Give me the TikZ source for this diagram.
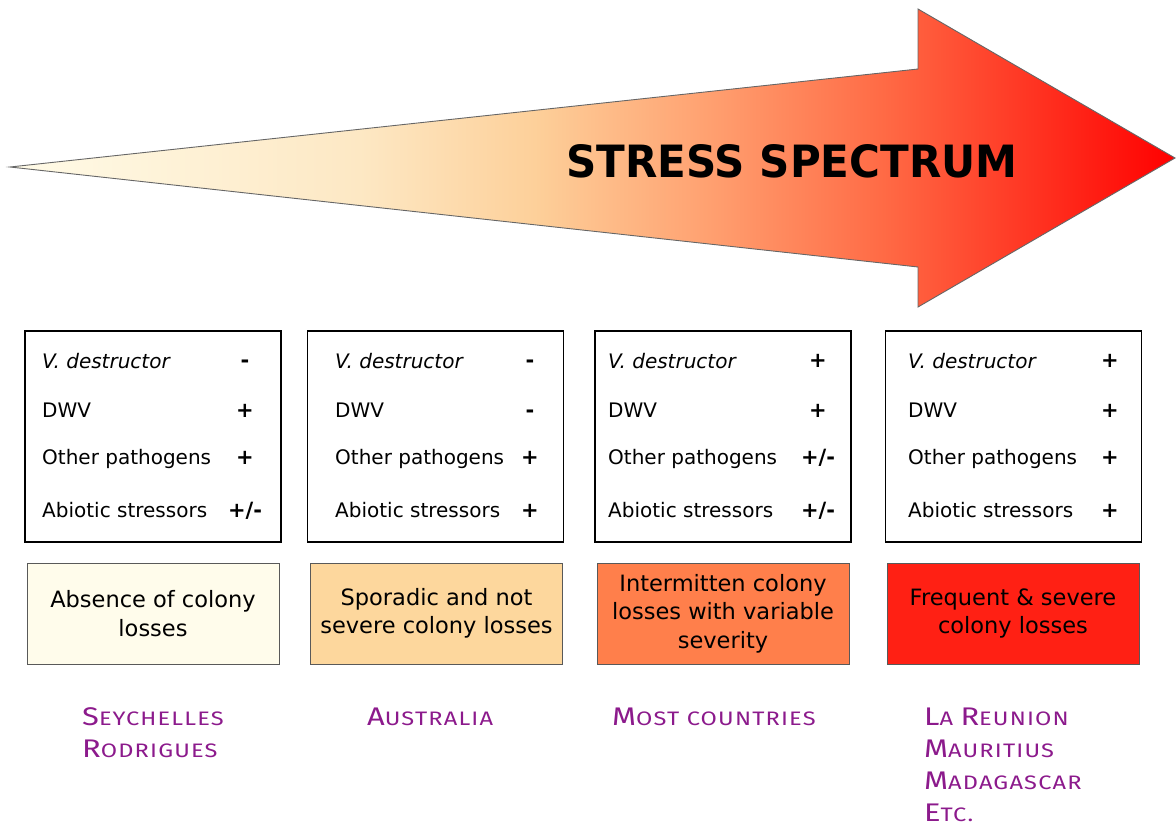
\documentclass[tikz,border=0pt]{standalone}
\usepackage{fontspec}
\setmainfont{DejaVu Sans}
\newfontfamily\cfont[LetterSpace=6,FakeStretch=1.21]{Fira Sans}
\newfontfamily\titlefont{DejaVu Sans}
\definecolor{s0}{RGB}{255,251,232}
\definecolor{s1}{RGB}{253,232,196}
\definecolor{s2}{RGB}{253,208,154}
\definecolor{s3}{RGB}{255,160,112}
\definecolor{s4}{RGB}{255,106,69}
\definecolor{s5}{RGB}{255,0,0}
\definecolor{f1}{RGB}{255,252,235}
\definecolor{f2}{RGB}{253,215,157}
\definecolor{f3}{RGB}{255,127,75}
\definecolor{f4}{RGB}{255,32,20}
\definecolor{purp}{RGB}{140,26,140}
\pgfdeclarehorizontalshading{stress}{100bp}{color(0bp)=(s0); color(25bp)=(s0); color(40bp)=(s1); color(47.5bp)=(s2); color(55bp)=(s3); color(62.5bp)=(s4); color(75bp)=(s5); color(100bp)=(s5)}
\newcommand\BigC[1]{{\fontsize{25.5}{25.5}\selectfont #1}}
\begin{document}
\begin{tikzpicture}[x=1pt,y=-1pt,
  topbox/.style={draw=black, line width=1.8pt, minimum width=256pt, minimum height=211pt, inner sep=0pt},
  lossbox/.style={draw=black!65, line width=1pt, minimum width=252pt, minimum height=101pt, inner sep=0pt, align=center, font=\fontsize{22.5}{28.5}\selectfont},
  row/.style={anchor=base west, inner sep=0pt, font=\fontsize{20}{20}\selectfont},
  sign/.style={anchor=base, inner sep=0pt, font=\fontsize{21}{21}\selectfont\bfseries},
  country/.style={anchor=base west, inner sep=0pt, text=purp, font=\cfont\fontsize{19.5}{19.5}\selectfont}
]
\useasboundingbox (0,0) rectangle (1176,827);
\fill[white] (0,0) rectangle (1176,827);
% arrow
\path[shading=stress, draw=black!60, line width=0.9pt]
  (10,167) -- (918,69) -- (918,9) -- (1175,158) -- (918,307) -- (918,267) -- cycle;
\node[inner sep=0pt] (title) at (792,161) {\resizebox{451pt}{33pt}{\titlefont\bfseries STRESS SPECTRUM}};
% top boxes
\node[topbox] (t1) at (153,436.5) {};
\node[topbox] (t2) at (435.5,436.5) {};
\node[topbox] (t3) at (723,436.5) {};
\node[topbox] (t4) at (1013.5,436.5) {};
% box 1
\node[row] (a1) at (42,368) {\itshape V. destructor};
\node[row] (a2) at (42,417) {DWV};
\node[row] (a3) at (42,464) {Other pathogens};
\node[row] (a4) at (42,517) {Abiotic stressors};
\node[sign] (as1) at (245,367) {-};
\node[sign] (as2) at (245,417) {+};
\node[sign] (as3) at (245,464) {+};
\node[sign] (as4) at (245,517) {+/-};
% box 2
\node[row] (b1) at (335,368) {\itshape V. destructor};
\node[row] (b2) at (335,417) {DWV};
\node[row] (b3) at (335,464) {Other pathogens};
\node[row] (b4) at (335,517) {Abiotic stressors};
\node[sign] (bs1) at (530,367) {-};
\node[sign] (bs2) at (530,417) {-};
\node[sign] (bs3) at (530,464) {+};
\node[sign] (bs4) at (530,517) {+};
% box 3
\node[row] (c1) at (608,368) {\itshape V. destructor};
\node[row] (c2) at (608,417) {DWV};
\node[row] (c3) at (608,464) {Other pathogens};
\node[row] (c4) at (608,517) {Abiotic stressors};
\node[sign] (cs1) at (818,367) {+};
\node[sign] (cs2) at (818,417) {+};
\node[sign] (cs3) at (818,464) {+/-};
\node[sign] (cs4) at (818,517) {+/-};
% box 4
\node[row] (d1) at (908,368) {\itshape V. destructor};
\node[row] (d2) at (908,417) {DWV};
\node[row] (d3) at (908,464) {Other pathogens};
\node[row] (d4) at (908,517) {Abiotic stressors};
\node[sign] (ds1) at (1110,367) {+};
\node[sign] (ds2) at (1110,417) {+};
\node[sign] (ds3) at (1110,464) {+};
\node[sign] (ds4) at (1110,517) {+};
% loss boxes
\node[lossbox, fill=f1] (l1) at (153,613.5) {Absence of colony\\losses};
\node[lossbox, fill=f2] (l2) at (436.5,613.5) {Sporadic and not\\severe colony losses};
\node[lossbox, fill=f3] (l3) at (723,613.5) {Intermitten colony\\losses with variable\\severity};
\node[lossbox, fill=f4] (l4) at (1013,613.5) {Frequent \& severe\\colony losses};
% countries
\node[country] (k1) at (82,725) {\BigC{S}EYCHELLES};
\node[country] (k2) at (82,757) {\BigC{R}ODRIGUES};
\node[country] (k3) at (367,725) {\BigC{A}USTRALIA};
\node[country] (k4) at (612,725) {\BigC{M}OST COUNTRIES};
\node[country] (k5) at (924,725) {\BigC{L}A \BigC{R}EUNION};
\node[country] (k6) at (924,757) {\BigC{M}AURITIUS};
\node[country] (k7) at (924,789) {\BigC{M}ADAGASCAR};
\node[country] (k8) at (924,821) {\BigC{E}TC.};
\end{tikzpicture}
\end{document}
